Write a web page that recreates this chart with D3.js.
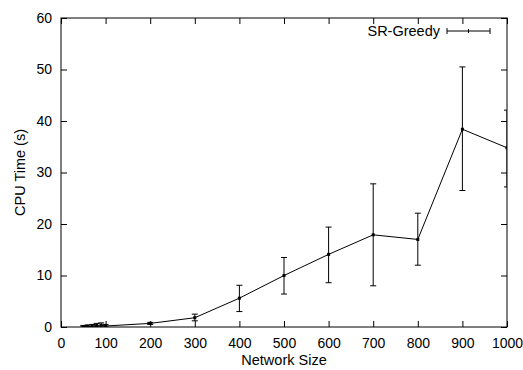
<!DOCTYPE html>
<html>
<head>
<meta charset="utf-8">
<script src="https://cdn.jsdelivr.net/npm/d3@7"></script>
<style>
  body { margin: 0; background: #fff; }
  text { font-family: "Liberation Sans", Arial, sans-serif; fill: #000; }
</style>
</head>
<body>
<div id="chart"></div>
<script>
  // data
  var sizes   = [50, 60, 70, 80, 90, 100, 200, 300, 400, 500, 600, 700, 800, 900, 1000];
  var cpuMean = [0.1, 0.15, 0.2, 0.3, 0.35, 0.2, 0.7, 1.8, 5.6, 10.0, 14.1, 17.9, 17.0, 38.4, 34.8];
  var cpuLow  = [0.0, 0.0, 0.0, 0.0, 0.0, 0.0, 0.5, 1.2, 3.0, 6.4, 8.6, 8.0, 12.0, 26.5, 27.2];
  var cpuHigh = [0.3, 0.4, 0.5, 0.7, 0.8, 0.5, 0.9, 2.5, 8.1, 13.5, 19.4, 27.8, 22.1, 50.5, 42.1];
  var xTicks = [0, 100, 200, 300, 400, 500, 600, 700, 800, 900, 1000];
  var yTicks = [0, 10, 20, 30, 40, 50, 60];
  var seriesName = "SR-Greedy";

  var data = sizes.map(function (s, i) {
    return { x: s, y: cpuMean[i], lo: cpuLow[i], hi: cpuHigh[i] };
  });

  var W = 523, H = 370;
  var margin = { top: 18, right: 16, bottom: 43, left: 61 };
  var width = W - margin.left - margin.right;
  var height = H - margin.top - margin.bottom;

  var svg = d3.select("#chart").append("svg")
    .attr("width", W)
    .attr("height", H);

  var g = svg.append("g")
    .attr("transform", "translate(" + margin.left + "," + margin.top + ")");

  var x = d3.scaleLinear().domain([0, 1000]).range([0, width]);
  var y = d3.scaleLinear().domain([0, 60]).range([height, 0]);

  // clip for the data so half error caps at the edge get cut like in gnuplot
  svg.append("defs").append("clipPath").attr("id", "clip")
    .append("rect").attr("x", 0).attr("y", 0).attr("width", width).attr("height", height);

  var tickLen = 6;
  var fmt = d3.format("d");

  // axes, ticks pointing inwards on all four sides
  var xb = g.append("g").attr("transform", "translate(0," + height + ")")
    .call(d3.axisBottom(x).tickValues(xTicks).tickFormat(fmt).tickSizeInner(-tickLen).tickSizeOuter(0).tickPadding(11));
  var xt = g.append("g")
    .call(d3.axisTop(x).tickValues(xTicks).tickSizeInner(-tickLen).tickSizeOuter(0).tickFormat(""));
  var yl = g.append("g")
    .call(d3.axisLeft(y).tickValues(yTicks).tickFormat(fmt).tickSizeInner(-tickLen).tickSizeOuter(0).tickPadding(9));
  var yr = g.append("g").attr("transform", "translate(" + width + ",0)")
    .call(d3.axisRight(y).tickValues(yTicks).tickSizeInner(-tickLen).tickSizeOuter(0).tickFormat(""));

  [xb, xt, yl, yr].forEach(function (a) {
    a.select(".domain").remove();
    a.selectAll("line").attr("stroke", "#000");
    a.selectAll("text").style("font-size", "14px").style("font-family", "Liberation Sans, Arial, sans-serif");
  });

  g.append("rect")
    .attr("width", width).attr("height", height)
    .attr("fill", "none").attr("stroke", "#000").attr("stroke-width", 1);

  // axis titles
  g.append("text")
    .attr("x", width / 2).attr("y", height + 38)
    .attr("text-anchor", "middle")
    .style("font-size", "14.5px")
    .text("Network Size");

  g.append("text")
    .attr("transform", "translate(-36," + (height / 2) + ")rotate(-90)")
    .attr("text-anchor", "middle")
    .style("font-size", "14.5px")
    .text("CPU Time (s)");

  var plot = g.append("g").attr("clip-path", "url(#clip)");

  // error bars
  var cap = 3;
  var eb = plot.selectAll(".err").data(data).enter().append("g").attr("class", "err");
  eb.append("line")
    .attr("x1", function (d) { return x(d.x); }).attr("x2", function (d) { return x(d.x); })
    .attr("y1", function (d) { return y(d.lo); }).attr("y2", function (d) { return y(d.hi); })
    .attr("stroke", "#000");
  eb.append("line")
    .attr("x1", function (d) { return x(d.x) - cap; }).attr("x2", function (d) { return x(d.x) + cap; })
    .attr("y1", function (d) { return y(d.lo); }).attr("y2", function (d) { return y(d.lo); })
    .attr("stroke", "#000");
  eb.append("line")
    .attr("x1", function (d) { return x(d.x) - cap; }).attr("x2", function (d) { return x(d.x) + cap; })
    .attr("y1", function (d) { return y(d.hi); }).attr("y2", function (d) { return y(d.hi); })
    .attr("stroke", "#000");

  // the line
  var line = d3.line().x(function (d) { return x(d.x); }).y(function (d) { return y(d.y); });
  plot.append("path").datum(data)
    .attr("d", line)
    .attr("fill", "none").attr("stroke", "#000").attr("stroke-width", 1);

  // small point marks
  plot.selectAll(".pt").data(data).enter().append("rect")
    .attr("x", function (d) { return x(d.x) - 1.5; })
    .attr("y", function (d) { return y(d.y) - 1.5; })
    .attr("width", 3).attr("height", 3)
    .attr("fill", "#000");

  // legend
  var lg = g.append("g").attr("transform", "translate(" + (width - 60) + ",13)");
  lg.append("text").attr("x", -7).attr("y", 5).attr("text-anchor", "end")
    .style("font-size", "14.5px").text(seriesName);
  lg.append("line").attr("x1", 0).attr("x2", 43).attr("y1", 0).attr("y2", 0).attr("stroke", "#000");
  lg.append("line").attr("x1", 0).attr("x2", 0).attr("y1", -3).attr("y2", 3).attr("stroke", "#000");
  lg.append("line").attr("x1", 43).attr("x2", 43).attr("y1", -3).attr("y2", 3).attr("stroke", "#000");
  lg.append("line").attr("x1", 21.5).attr("x2", 21.5).attr("y1", -2).attr("y2", 2).attr("stroke", "#000");
</script>
</body>
</html>
